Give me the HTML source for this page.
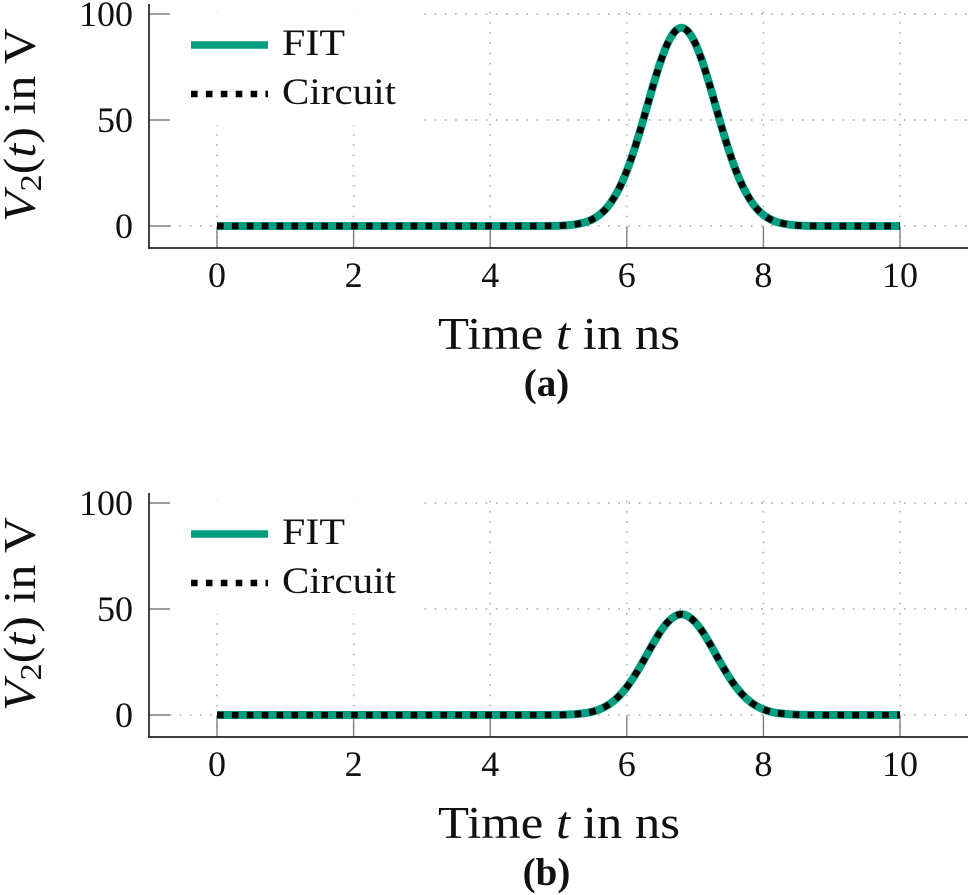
<!DOCTYPE html>
<html lang="en">
<head>
<meta charset="utf-8">
<title>V2(t) over time</title>
<style>
html,body{margin:0;padding:0;background:#fff;}
svg{display:block;}
text{font-family:"Liberation Serif",serif;fill:#111;}
</style>
</head>
<body>
<svg id="chart" xmlns="http://www.w3.org/2000/svg" width="969" height="895" viewBox="0 0 969 895"></svg>
<script>
const timeNs = [0,1,2,3,4,4.6,5,5.2,5.4,5.5,5.6,5.7,5.8,5.9,6,6.1,6.2,6.3,6.4,6.5,6.6,6.7,6.8,6.9,7,7.1,7.2,7.3,7.4,7.5,7.6,7.7,7.8,7.9,8,8.1,8.2,8.4,8.6,9,10];
const fitA = [0,0,0,0,0,0.02,0.14,0.56,1.85,3.2,5.25,8.3,12.7,18.5,26,35.1,45.5,56.7,67.9,78.1,86.3,91.6,93.5,91.6,86.3,78.1,67.9,56.7,45.5,35.1,26,18.5,12.7,8.3,5.25,3.2,1.85,0.56,0.14,0,0];
const circuitA = [0,0,0,0,0,0.02,0.14,0.56,1.85,3.2,5.25,8.3,12.7,18.5,26,35.1,45.5,56.7,67.9,78.1,86.3,91.6,93.5,91.6,86.3,78.1,67.9,56.7,45.5,35.1,26,18.5,12.7,8.3,5.25,3.2,1.85,0.56,0.14,0,0];
const fitB = [0,0,0,0,0,0.01,0.07,0.28,0.94,1.6,2.65,4.2,6.4,9.4,13.2,17.8,23.1,28.8,34.5,39.7,43.8,46.5,47.5,46.5,43.8,39.7,34.5,28.8,23.1,17.8,13.2,9.4,6.4,4.2,2.65,1.6,0.94,0.28,0.07,0,0];
const circuitB = [0,0,0,0,0,0.01,0.07,0.28,0.94,1.6,2.65,4.2,6.4,9.4,13.2,17.8,23.1,28.8,34.5,39.7,43.8,46.5,47.5,46.5,43.8,39.7,34.5,28.8,23.1,17.8,13.2,9.4,6.4,4.2,2.65,1.6,0.94,0.28,0.07,0,0];
const xTickValues = [0,2,4,6,8,10];
const yTickValues = [0,50,100];

const NS = 'http://www.w3.org/2000/svg';
const root = document.getElementById('chart');
const xScale = v => 217 + v * 68.3;
const yScale = v => 226 - v * 2.12;
const PLOT_LEFT = 149, PLOT_RIGHT = 968, PLOT_TOP = 4, PLOT_BOTTOM = 248;

function make(parent, tag, attrs, text) {
  const el = document.createElementNS(NS, tag);
  for (const k in attrs) el.setAttribute(k, attrs[k]);
  if (text !== undefined) el.textContent = text;
  parent.appendChild(el);
  return el;
}
// Smooth curve through the data points (Catmull-Rom converted to cubic Beziers).
function seriesPath(values) {
  const pts = timeNs.map((t, i) => [xScale(t), yScale(values[i])]);
  let d = 'M' + pts[0][0].toFixed(2) + ' ' + pts[0][1].toFixed(2);
  for (let i = 0; i < pts.length - 1; i++) {
    const a = pts[Math.max(i - 1, 0)], b = pts[i], c = pts[i + 1], e = pts[Math.min(i + 2, pts.length - 1)];
    const seg = c[0] - b[0];
    const m1 = (c[1] - a[1]) / Math.max(c[0] - a[0], 0.001);
    const m2 = (e[1] - b[1]) / Math.max(e[0] - b[0], 0.001);
    d += ' C' + (b[0] + seg / 3).toFixed(2) + ' ' + (b[1] + m1 * seg / 3).toFixed(2) + ' ' +
      (c[0] - seg / 3).toFixed(2) + ' ' + (c[1] - m2 * seg / 3).toFixed(2) + ' ' +
      c[0].toFixed(2) + ' ' + c[1].toFixed(2);
  }
  return d;
}

function drawPanel(offsetY, panelId, fitValues, circuitValues, captionLetter) {
  const g = make(root, 'g', {transform: 'translate(0,' + offsetY + ')'});
  
  

  xTickValues.forEach(v => {
    const line = make(g, 'line', {x1: xScale(v), x2: xScale(v), y1: PLOT_BOTTOM, y2: PLOT_TOP + 4.7, stroke: '#b4b4b4', 'stroke-width': 1.7, 'stroke-dasharray': '1.7 8.5'});
    
    
  });
  yTickValues.forEach(v => {
    const line = make(g, 'line', {x1: PLOT_LEFT, x2: PLOT_RIGHT, y1: yScale(v), y2: yScale(v), stroke: '#b4b4b4', 'stroke-width': 1.7, 'stroke-dasharray': '1.7 8.5'});
    
    
  });

  const box = make(g, 'rect', {x: 170, y: 12, width: 250, height: 113, fill: '#fff'});
  
  

  xTickValues.forEach(v => {
    const tick = make(g, 'line', {x1: xScale(v), x2: xScale(v), y1: PLOT_BOTTOM, y2: PLOT_BOTTOM - 21, stroke: '#808080', 'stroke-width': 1.4});
    
    
    const label = make(g, 'text', {x: xScale(v), y: 287, 'font-size': 36, 'text-anchor': 'middle'}, String(v));
    
    
  });
  yTickValues.forEach(v => {
    const tick = make(g, 'line', {x1: PLOT_LEFT, x2: PLOT_LEFT + 21, y1: yScale(v), y2: yScale(v), stroke: '#808080', 'stroke-width': 1.4});
    
    
    const label = make(g, 'text', {x: 133, y: yScale(v) + 12, 'font-size': 36, 'text-anchor': 'end'}, String(v));
    
    
  });

  const fit = make(g, 'path', {d: seriesPath(fitValues), fill: 'none', stroke: '#009e7f', 'stroke-width': 8, 'stroke-linejoin': 'round'});
  
  
  const circuit = make(g, 'path', {d: seriesPath(circuitValues), fill: 'none', stroke: '#000', 'stroke-width': 6.5, 'stroke-dasharray': '6.6 8.3'});
  
  

  const xAxis = make(g, 'line', {x1: PLOT_LEFT - 1, x2: PLOT_RIGHT, y1: PLOT_BOTTOM, y2: PLOT_BOTTOM, stroke: '#222', 'stroke-width': 1.7});
  
  
  const yAxis = make(g, 'line', {x1: PLOT_LEFT, x2: PLOT_LEFT, y1: PLOT_TOP, y2: PLOT_BOTTOM, stroke: '#222', 'stroke-width': 1.7});
  
  

  const fitKey = make(g, 'line', {x1: 191, x2: 268, y1: 45, y2: 45, stroke: '#009e7f', 'stroke-width': 7.4});
  
  
  const fitText = make(g, 'text', {x: 282, y: 55, 'font-size': 37, textLength: 63, lengthAdjust: 'spacingAndGlyphs'}, 'FIT');
  
  
  const circuitKey = make(g, 'line', {x1: 191, x2: 268, y1: 94, y2: 94, stroke: '#000', 'stroke-width': 6.6, 'stroke-dasharray': '6.6 8.3'});
  
  
  const circuitText = make(g, 'text', {x: 282, y: 104, 'font-size': 37, textLength: 114, lengthAdjust: 'spacingAndGlyphs'}, 'Circuit');
  
  

  const xTitle = make(g, 'text', {x: 438, y: 349, 'font-size': 45, textLength: 242, lengthAdjust: 'spacingAndGlyphs'});
  
  
  make(xTitle, 'tspan', {}, 'Time ');
  make(xTitle, 'tspan', {'font-style': 'italic'}, 't');
  make(xTitle, 'tspan', {}, ' in ns');

  const yTitle = make(g, 'text', {transform: 'translate(35,222) rotate(-90)', x: 0, y: 0, 'font-size': 45, textLength: 194, lengthAdjust: 'spacingAndGlyphs'});
  
  
  make(yTitle, 'tspan', {'font-style': 'italic'}, 'V');
  make(yTitle, 'tspan', {'font-size': 31, dy: 6}, '2');
  make(yTitle, 'tspan', {dy: -6}, '(');
  make(yTitle, 'tspan', {'font-style': 'italic'}, 't');
  make(yTitle, 'tspan', {}, ') in V');

  const caption = make(g, 'text', {x: 546.5, y: 396, 'font-size': 39, 'font-weight': 'bold', 'text-anchor': 'middle'}, '(' + captionLetter + ')');
  
  
}

drawPanel(0, 'a', fitA, circuitA, 'a');
drawPanel(489, 'b', fitB, circuitB, 'b');
</script>
</body>
</html>
